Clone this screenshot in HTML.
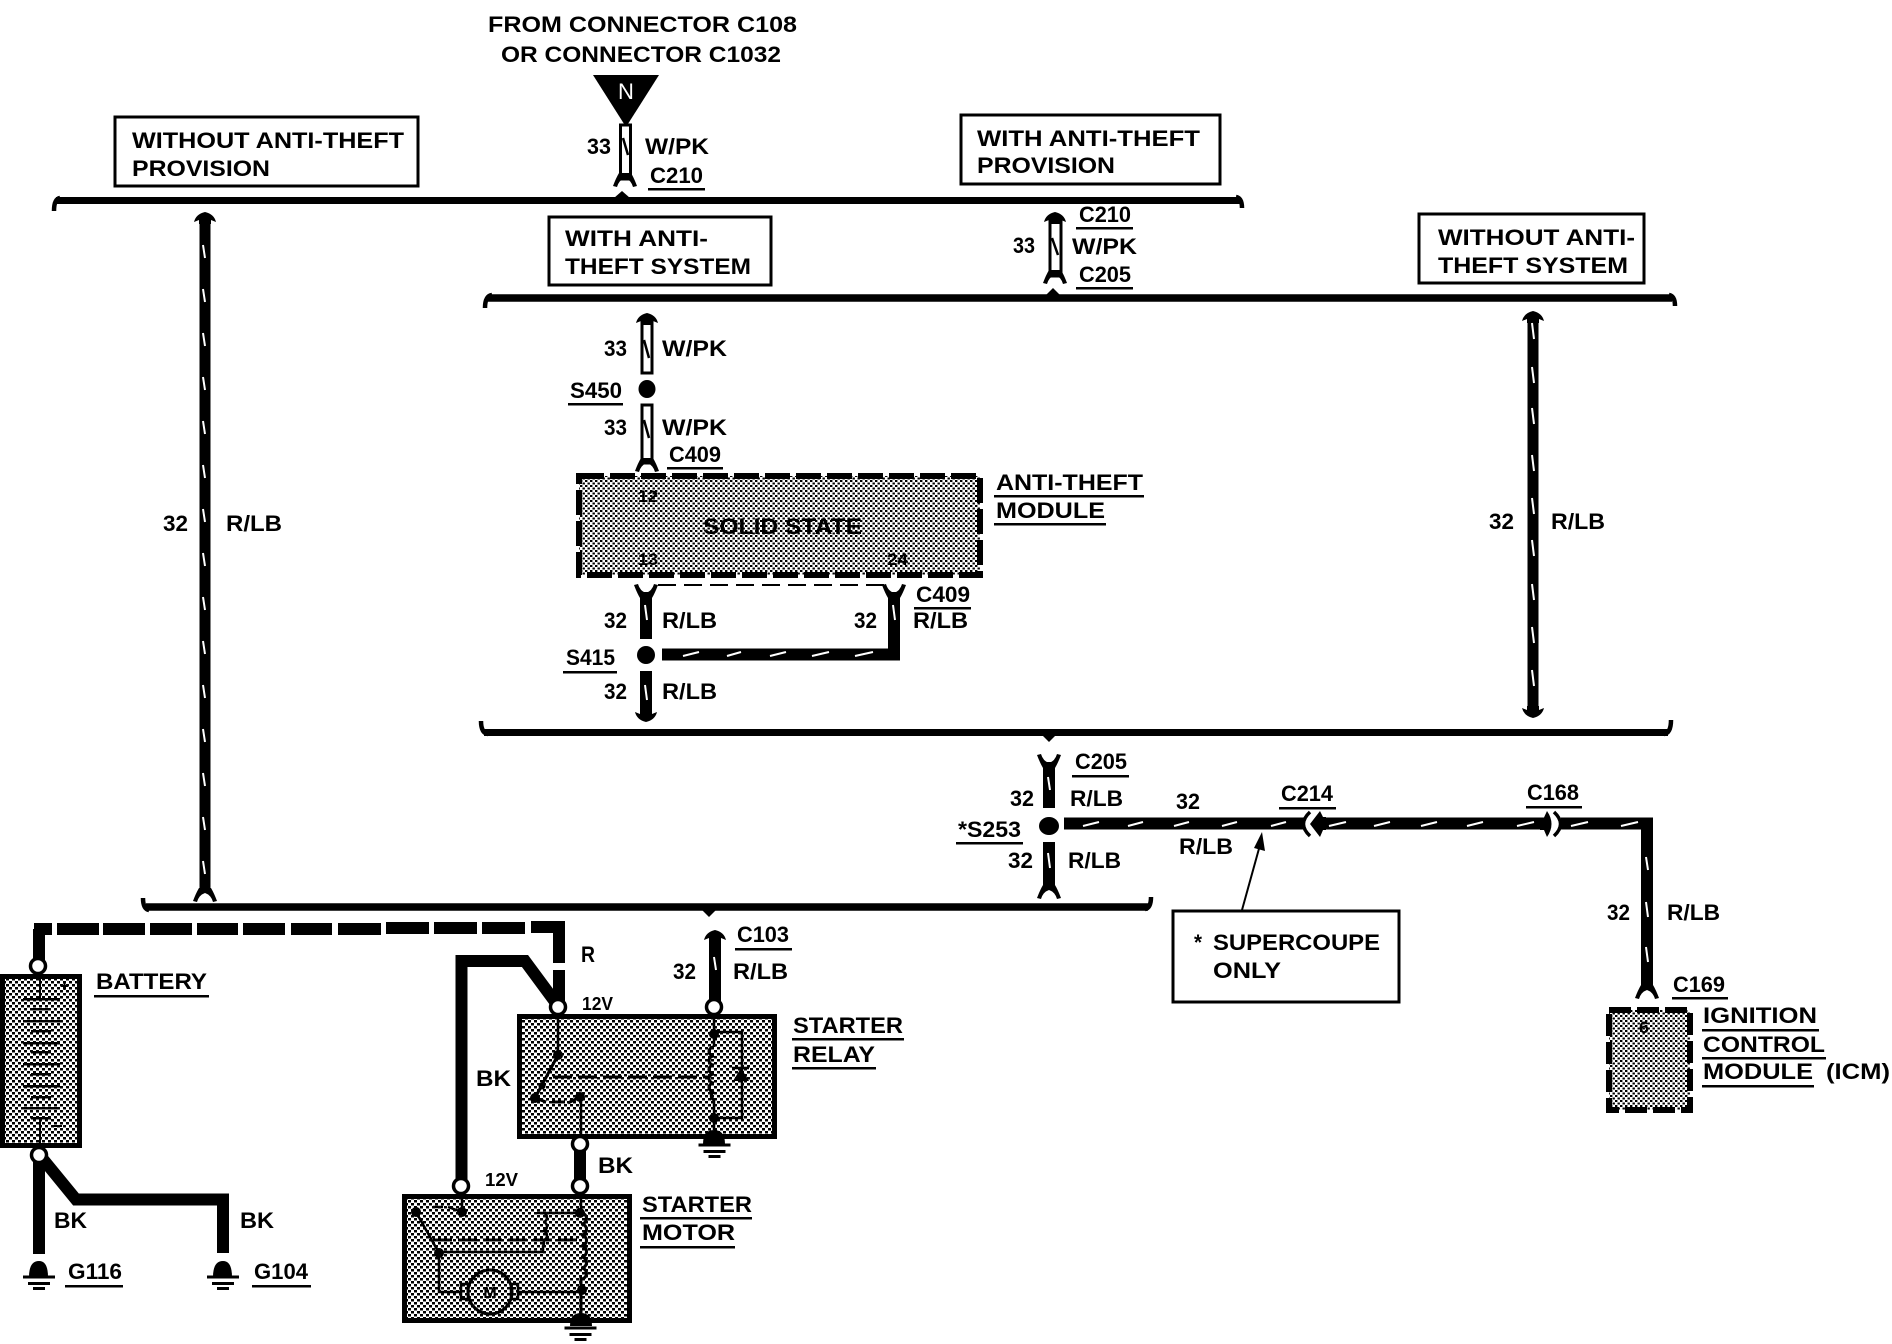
<!DOCTYPE html>
<html><head><meta charset="utf-8"><style>
html,body{margin:0;padding:0;background:#fff}
svg{display:block}
text{font-family:"Liberation Sans",sans-serif;font-weight:bold;fill:#000;font-size:22px}
.s{font-size:18px}
.n{font-size:17px}
.m{font-size:16px}
</style></head><body>
<svg width="1892" height="1344" viewBox="0 0 1892 1344" xmlns="http://www.w3.org/2000/svg">
<defs>
<pattern id="d" width="6" height="6" patternUnits="userSpaceOnUse"><rect width="6" height="6" fill="#fff"/><rect width="3" height="2.500"/><rect x="3" y="3" width="3" height="2.500"/></pattern>
<pattern id="f" width="5" height="5" patternUnits="userSpaceOnUse"><rect width="5" height="5" fill="#fff"/><rect width="2.400" height="2"/><rect x="2.500" y="2.500" width="2.400" height="2"/></pattern>
<path id="cap" d="M-11 10Q-9 2 0 0Q9 2 11 10L6 8L6 12L-6 12L-6 8Z"/>
<path id="fu" d="M-12 0L-8 -1Q-6 6 0 8Q6 6 8 -1L12 0Q9 8 6 13L-6 13Q-9 8 -12 0Z"/>
<path id="fd" d="M-12 0L-8 1Q-6 -6 0 -8Q6 -6 8 1L12 0Q9 -8 6 -13L-6 -13Q-9 -8 -12 0Z"/>
<path id="capd" d="M-11 -10Q-9 -2 0 0Q9 -2 11 -10L6 -8L6 -12L-6 -12L-6 -8Z"/>
<g id="gnd"><rect x="-16" y="-1.500" width="32" height="3"/><rect x="-11" y="5" width="22" height="3"/><rect x="-6" y="10" width="12" height="3"/></g>
</defs>

<!-- header -->
<text x="488" y="32" textLength="309" lengthAdjust="spacingAndGlyphs">FROM CONNECTOR C108</text>
<text x="501" y="62" textLength="280" lengthAdjust="spacingAndGlyphs">OR CONNECTOR C1032</text>
<path d="M593 75H659L626 127Z"/>
<text x="626" y="99" text-anchor="middle" style="fill:#fff;font-weight:normal">N</text>

<!-- note boxes -->
<g fill="#fff" stroke="#000" stroke-width="3">
<rect x="115" y="117" width="303" height="69"/>
<rect x="961" y="115" width="259" height="69"/>
<rect x="549" y="217" width="222" height="68"/>
<rect x="1419" y="214" width="225" height="69"/>
<rect x="1173" y="911" width="226" height="91"/>
</g>
<text x="132" y="148" textLength="272" lengthAdjust="spacingAndGlyphs">WITHOUT ANTI-THEFT</text>
<text x="132" y="176" textLength="138" lengthAdjust="spacingAndGlyphs">PROVISION</text>
<text x="977" y="146" textLength="223" lengthAdjust="spacingAndGlyphs">WITH ANTI-THEFT</text>
<text x="977" y="173" textLength="138" lengthAdjust="spacingAndGlyphs">PROVISION</text>
<text x="565" y="246" textLength="143" lengthAdjust="spacingAndGlyphs">WITH ANTI-</text>
<text x="565" y="274" textLength="186" lengthAdjust="spacingAndGlyphs">THEFT SYSTEM</text>
<text x="1438" y="245" textLength="197" lengthAdjust="spacingAndGlyphs">WITHOUT ANTI-</text>
<text x="1438" y="273" textLength="190" lengthAdjust="spacingAndGlyphs">THEFT SYSTEM</text>
<text x="1194" y="950" textLength="8" lengthAdjust="spacingAndGlyphs">*</text>
<text x="1213" y="950" textLength="167" lengthAdjust="spacingAndGlyphs">SUPERCOUPE</text>
<text x="1213" y="978" textLength="68" lengthAdjust="spacingAndGlyphs">ONLY</text>

<!-- braces -->
<g fill="none" stroke="#000">
<path stroke-width="7" d="M56 200.500H1240"/>
<path stroke-width="4.500" d="M54 211Q54 199 60 198"/>
<path stroke-width="4.500" d="M1242 208Q1242 198 1236 197"/>
<path stroke-width="7.500" d="M488 298H1672"/>
<path stroke-width="4.500" d="M485 308Q485 296 492 295"/>
<path stroke-width="4.500" d="M1675 306Q1675 296 1669 295"/>
<path stroke-width="7" d="M484 732.500H1668"/>
<path stroke-width="4.500" d="M481 721Q481 733 488 734"/>
<path stroke-width="4.500" d="M1671 720Q1671 733 1664 734"/>
<path stroke-width="7.500" d="M146 907H1148"/>
<path stroke-width="4.500" d="M143 898Q143 909 149 910"/>
<path stroke-width="4.500" d="M1151 897Q1151 908 1145 909"/>
</g>
<path d="M614 198L622 191L630 198Z"/><path d="M1046 295L1053 288L1060 295Z"/>
<path d="M1042 735L1049 742L1056 735Z"/><path d="M702 910L709 917L716 910Z"/>

<!-- thick solid wires -->
<g fill="none" stroke="#000" stroke-width="12">
<path stroke-width="11" d="M205 222V890"/>
<path stroke-width="11" d="M1533 320V710"/>
<path d="M646 592V639"/><path d="M646 671V712"/>
<path d="M662 654.500H894V592"/>
<path d="M1049 762V808"/><path d="M1049 842V888"/>
<path d="M1064 823.500H1305"/><path d="M1322 823.500H1545"/><path d="M1561 823.500H1647V990"/>
<path d="M39 1155V1254"/>
<path d="M42 1158L76 1199.500H223V1253"/>
<path d="M461.500 1186V961H525L556 1003"/>
<path d="M580 1144V1186"/>
<path d="M715 938V1007"/>
<path d="M559 970V1007"/>
<path d="M39 966V929"/>
</g>
<!-- dashed heavy R wire -->
<g>
<rect x="34" y="923" width="18" height="12"/><rect x="57" y="923" width="42" height="12"/><rect x="103" y="923" width="42" height="12"/><rect x="150" y="923" width="42" height="12"/><rect x="197" y="923" width="41" height="12"/><rect x="243" y="923" width="42" height="12"/><rect x="291" y="923" width="41" height="12"/><rect x="338" y="923" width="43" height="12"/><rect x="386" y="922" width="43" height="12"/><rect x="434" y="922" width="43" height="12"/><rect x="482" y="922" width="43" height="12"/><rect x="531" y="921" width="34" height="12"/><rect x="553" y="921" width="12" height="42"/>
</g>

<!-- double (W/PK) wires -->
<g fill="#fff" stroke="#000" stroke-width="3">
<rect x="620.500" y="125" width="10" height="54"/>
<rect x="1050" y="220" width="11" height="56"/>
<rect x="642" y="320" width="10" height="53"/>
<rect x="642" y="405" width="10" height="58"/>
</g>
<g fill="none" stroke="#000" stroke-width="2.500">
<path d="M623 138L628 155"/><path d="M1052 238L1058 255"/><path d="M644 340L649 358"/><path d="M644 420L649 438"/>
</g>

<!-- connector ends -->
<use href="#cap" x="205" y="212"/>
<use href="#fd" x="205" y="901"/>
<use href="#fd" x="625" y="186"/>
<use href="#cap" x="1055" y="212"/>
<use href="#fd" x="1055" y="283"/>
<use href="#cap" x="647" y="313"/>
<use href="#fd" x="647" y="471"/>
<use href="#fu" x="646" y="585"/>
<use href="#fu" x="894" y="585"/>
<use href="#capd" x="646" y="722"/>
<use href="#cap" x="1533" y="311"/>
<use href="#capd" x="1533" y="718"/>
<use href="#fu" x="1049" y="755"/>
<use href="#fd" x="1049" y="898"/>
<use href="#cap" x="715" y="930"/>
<use href="#fd" x="1647" y="998"/>

<!-- white slashes -->
<path fill="none" stroke="#fff" stroke-width="2" d="M203 245l2 13M203 289l2 13M203 333l2 13M203 377l2 13M203 421l2 13M203 465l2 13M203 509l2 13M203 553l2 13M203 597l2 13M203 641l2 13M203 685l2 13M203 729l2 13M203 773l2 13M203 817l2 13M203 861l2 13
M1532 323l2 16M1532 367l2 16M1532 408l2 16M1532 455l2 16M1532 498l2 16M1532 540l2 16M1532 584l2 16M1532 627l2 16M1532 670l2 16
M645 605l2 15M645 685l2 15M893 605l2 15M714 957l2 13M1048 777l2 13M1048 853l2 15
M1646 857l2 13M1646 902l2 15M1646 947l2 15
M683 656l16 -4M727 656l14 -4M770 656l16 -4M812 656l17 -4M855 656l18 -4
M1083 826l16 -4M1128 826l15 -4M1174 826l15 -4M1222 826l15 -4M1271 826l15 -4M1329 826l17 -4M1374 826l16 -4M1421 826l16 -4M1467 826l16 -4M1517 826l17 -4M1571 826l17 -4M1621 826l17 -4"/>

<!-- dotted line between C409 forks -->
<path fill="none" stroke="#000" stroke-width="2" stroke-dasharray="18 8" d="M658 585H884"/>

<!-- splices -->
<ellipse cx="647" cy="389" rx="8.500" ry="9"/>
<ellipse cx="646" cy="655" rx="9" ry="9"/>
<ellipse cx="1049" cy="826" rx="10" ry="9"/>

<!-- C214 / C168 connectors -->
<path fill="none" stroke="#000" stroke-width="3.500" d="M1310 812Q1297 824 1310 836"/>
<path d="M1320 811L1310 824L1320 837L1323 830H1326V817H1323Z"/>
<path d="M1540 817.500H1544L1547 811Q1556 824 1547 837L1544 830H1540Z"/>
<path fill="none" stroke="#000" stroke-width="3.500" d="M1554 812Q1567 824 1554 836"/>

<!-- arrow to S253 note -->
<path fill="none" stroke="#000" stroke-width="2" d="M1242 910L1260 845"/>
<path d="M1262 832L1265 851L1254 848Z"/>

<!-- anti-theft module -->
<rect x="579" y="476" width="401" height="99" fill="url(#f)" stroke="#000" stroke-width="6" stroke-dasharray="25 6"/>
<!-- ICM -->
<rect x="1609" y="1010" width="81" height="100" fill="url(#f)" stroke="#000" stroke-width="6" stroke-dasharray="22 6"/>
<!-- battery / relay / motor -->
<rect x="2.500" y="976.500" width="77" height="169" fill="url(#d)" stroke="#000" stroke-width="5"/>
<rect x="519.500" y="1016.500" width="255" height="120" fill="url(#d)" stroke="#000" stroke-width="5"/>
<rect x="404.500" y="1196.500" width="225" height="124" fill="url(#d)" stroke="#000" stroke-width="5"/>

<!-- battery internals -->
<g fill="#000">
<rect x="39" y="974" width="2" height="25"/>
<rect x="23" y="998" width="37" height="2.500"/><rect x="31" y="1008" width="20" height="2.500"/>
<rect x="23" y="1020" width="37" height="2.500"/><rect x="31" y="1030" width="20" height="2.500"/>
<rect x="23" y="1042" width="37" height="2.500"/><rect x="31" y="1051" width="20" height="2.500"/>
<rect x="23" y="1063" width="37" height="2.500"/><rect x="31" y="1073" width="20" height="2.500"/>
<rect x="23" y="1085" width="37" height="2.500"/><rect x="31" y="1096" width="20" height="2.500"/>
<rect x="23" y="1107" width="37" height="2.500"/><rect x="31" y="1117" width="20" height="2.500"/>
<rect x="39" y="1118" width="2" height="30"/>
<rect x="61" y="985" width="7" height="2"/><rect x="63.500" y="982" width="2" height="8"/>
<rect x="54" y="1125" width="8" height="2"/>
</g>

<!-- relay internals -->
<g fill="none" stroke="#000" stroke-width="2.500">
<path d="M558 1015V1055"/>
<path stroke-width="3" d="M558 1055L535 1098"/>
<path stroke-width="3" d="M535 1098L546 1102M552 1102H565M568 1103L580 1097"/>
<path d="M581 1098V1144"/>
<path stroke-width="3" stroke-dasharray="19 6" d="M553 1077H708"/>
<path d="M714 1015V1047M714 1100V1130"/>
<path stroke-width="3" d="M714 1047a5 4.500 0 0 0 0 9a5 4.500 0 0 0 0 9a5 4.500 0 0 0 0 9a5 4.500 0 0 0 0 9a5 4.500 0 0 0 0 9a5 4.500 0 0 0 0 8"/>
<path d="M714 1032H742V1118H714"/>
<path d="M732 1068H749"/>
</g>
<path d="M733 1081H749L741 1068Z"/>
<circle cx="558" cy="1055" r="5"/><circle cx="542" cy="1086" r="3.500"/><circle cx="535" cy="1098" r="5"/><circle cx="580" cy="1097" r="5"/>
<circle cx="714" cy="1034" r="5"/><circle cx="714" cy="1118" r="5"/>
<path d="M703 1144Q703 1130 714 1130Q725 1130 725 1144Z"/>
<use href="#gnd" x="714.500" y="1145"/>

<!-- motor internals -->
<g fill="none" stroke="#000" stroke-width="2.500">
<path d="M462 1194V1212"/>
<path d="M416 1212L439 1253V1292H461"/>
<path d="M433 1207H443M448 1207L462 1212"/>
<path stroke-width="3" stroke-dasharray="19 6" d="M433 1240H583"/>
<path d="M439 1252H543M537 1213H580"/>
<path d="M543 1213a4 4.500 0 0 1 0 9a4 4.500 0 0 1 0 9a4 4.500 0 0 1 0 9a4 4.500 0 0 1 0 6V1252"/>
<path d="M581 1194V1213"/>
<path stroke-width="3" d="M581 1213a5 5 0 0 1 0 11a5 5 0 0 1 0 11a5 5 0 0 1 0 11a5 5 0 0 1 0 11a5 5 0 0 1 0 11a5 5 0 0 1 0 11V1318"/>
<path d="M517 1292H582"/>
<circle cx="490" cy="1292" r="22" stroke-width="3"/>
<rect x="461" y="1284" width="7" height="15"/><rect x="511" y="1284" width="7" height="15"/>
</g>
<circle cx="462" cy="1212" r="5"/><circle cx="416" cy="1212" r="5"/><circle cx="439" cy="1253" r="5"/><circle cx="580" cy="1213" r="5"/><circle cx="582" cy="1290" r="5"/>
<path d="M570 1326Q570 1313 581 1313Q592 1313 592 1326Z"/>
<use href="#gnd" x="580.500" y="1328"/>

<!-- open terminals -->
<g fill="#fff" stroke="#000" stroke-width="3.500">
<circle cx="38" cy="966" r="7.500"/><circle cx="39" cy="1155" r="7.500"/>
<circle cx="558" cy="1007" r="7.500"/><circle cx="714" cy="1007" r="7.500"/>
<circle cx="580" cy="1144" r="7.500"/><circle cx="461" cy="1186" r="7.500"/><circle cx="580" cy="1186" r="7.500"/>
</g>

<!-- grounds G116 / G104 -->
<path d="M29 1277Q29 1261 39 1261Q48 1261 48 1277Z"/><use href="#gnd" x="39" y="1277"/>
<path d="M213 1277Q213 1261 223 1261Q232 1261 232 1277Z"/><use href="#gnd" x="223" y="1277"/>

<!-- underlines -->
<g fill="#000">
<rect x="648" y="188" width="57" height="2.500"/>
<rect x="1076" y="227" width="57" height="2.500"/>
<rect x="1076" y="287" width="57" height="2.500"/>
<rect x="568" y="403" width="55" height="2.500"/>
<rect x="667" y="467" width="56" height="2.500"/>
<rect x="914" y="607" width="57" height="2.500"/>
<rect x="563" y="671" width="54" height="2.500"/>
<rect x="994" y="495" width="150" height="2.500"/>
<rect x="994" y="523" width="112" height="2.500"/>
<rect x="1072" y="775" width="57" height="2.500"/>
<rect x="956" y="842" width="67" height="2.500"/>
<rect x="1279" y="807" width="57" height="2.500"/>
<rect x="1526" y="806" width="56" height="2.500"/>
<rect x="1672" y="997" width="56" height="2.500"/>
<rect x="1702" y="1029" width="117" height="2.500"/>
<rect x="1702" y="1057" width="124" height="2.500"/>
<rect x="1702" y="1085" width="112" height="2.500"/>
<rect x="94" y="995" width="115" height="2.500"/>
<rect x="65" y="1285" width="58" height="2.500"/>
<rect x="252" y="1285" width="59" height="2.500"/>
<rect x="735" y="948" width="57" height="2.500"/>
<rect x="792" y="1038" width="112" height="2.500"/>
<rect x="792" y="1067" width="84" height="2.500"/>
<rect x="640" y="1217" width="112" height="2.500"/>
<rect x="640" y="1246" width="95" height="2.500"/>
</g>

<!-- wire labels -->
<text x="587" y="154" textLength="24" lengthAdjust="spacingAndGlyphs">33</text>
<text x="645" y="154" textLength="64" lengthAdjust="spacingAndGlyphs">W/PK</text>
<text x="650" y="183" textLength="53" lengthAdjust="spacingAndGlyphs">C210</text>
<text x="1079" y="222" textLength="52" lengthAdjust="spacingAndGlyphs">C210</text>
<text x="1013" y="253" textLength="22" lengthAdjust="spacingAndGlyphs">33</text>
<text x="1072" y="254" textLength="65" lengthAdjust="spacingAndGlyphs">W/PK</text>
<text x="1079" y="282" textLength="52" lengthAdjust="spacingAndGlyphs">C205</text>
<text x="604" y="356" textLength="23" lengthAdjust="spacingAndGlyphs">33</text>
<text x="662" y="356" textLength="65" lengthAdjust="spacingAndGlyphs">W/PK</text>
<text x="570" y="398" textLength="52" lengthAdjust="spacingAndGlyphs">S450</text>
<text x="604" y="435" textLength="23" lengthAdjust="spacingAndGlyphs">33</text>
<text x="662" y="435" textLength="65" lengthAdjust="spacingAndGlyphs">W/PK</text>
<text x="669" y="462" textLength="52" lengthAdjust="spacingAndGlyphs">C409</text>
<text x="996" y="490" textLength="147" lengthAdjust="spacingAndGlyphs">ANTI-THEFT</text>
<text x="996" y="518" textLength="109" lengthAdjust="spacingAndGlyphs">MODULE</text>
<text x="703" y="534" textLength="159" lengthAdjust="spacingAndGlyphs">SOLID STATE</text>
<text class="n" x="638" y="502" textLength="20" lengthAdjust="spacingAndGlyphs">12</text>
<text class="n" x="638" y="565" textLength="20" lengthAdjust="spacingAndGlyphs">13</text>
<text class="n" x="887" y="565" textLength="21" lengthAdjust="spacingAndGlyphs">24</text>
<text x="916" y="602" textLength="54" lengthAdjust="spacingAndGlyphs">C409</text>
<text x="604" y="628" textLength="23" lengthAdjust="spacingAndGlyphs">32</text>
<text x="662" y="628" textLength="55" lengthAdjust="spacingAndGlyphs">R/LB</text>
<text x="854" y="628" textLength="23" lengthAdjust="spacingAndGlyphs">32</text>
<text x="913" y="628" textLength="55" lengthAdjust="spacingAndGlyphs">R/LB</text>
<text x="566" y="665" textLength="49" lengthAdjust="spacingAndGlyphs">S415</text>
<text x="604" y="699" textLength="23" lengthAdjust="spacingAndGlyphs">32</text>
<text x="662" y="699" textLength="55" lengthAdjust="spacingAndGlyphs">R/LB</text>
<text x="163" y="531" textLength="25" lengthAdjust="spacingAndGlyphs">32</text>
<text x="226" y="531" textLength="56" lengthAdjust="spacingAndGlyphs">R/LB</text>
<text x="1489" y="529" textLength="25" lengthAdjust="spacingAndGlyphs">32</text>
<text x="1551" y="529" textLength="54" lengthAdjust="spacingAndGlyphs">R/LB</text>
<text x="1075" y="769" textLength="52" lengthAdjust="spacingAndGlyphs">C205</text>
<text x="1010" y="806" textLength="24" lengthAdjust="spacingAndGlyphs">32</text>
<text x="1070" y="806" textLength="53" lengthAdjust="spacingAndGlyphs">R/LB</text>
<text x="958" y="837" textLength="63" lengthAdjust="spacingAndGlyphs">*S253</text>
<text x="1008" y="868" textLength="25" lengthAdjust="spacingAndGlyphs">32</text>
<text x="1068" y="868" textLength="53" lengthAdjust="spacingAndGlyphs">R/LB</text>
<text x="1176" y="809" textLength="24" lengthAdjust="spacingAndGlyphs">32</text>
<text x="1179" y="854" textLength="54" lengthAdjust="spacingAndGlyphs">R/LB</text>
<text x="1281" y="801" textLength="52" lengthAdjust="spacingAndGlyphs">C214</text>
<text x="1527" y="800" textLength="52" lengthAdjust="spacingAndGlyphs">C168</text>
<text x="1607" y="920" textLength="23" lengthAdjust="spacingAndGlyphs">32</text>
<text x="1667" y="920" textLength="53" lengthAdjust="spacingAndGlyphs">R/LB</text>
<text x="1673" y="992" textLength="52" lengthAdjust="spacingAndGlyphs">C169</text>
<text class="n" x="1639" y="1033" textLength="10" lengthAdjust="spacingAndGlyphs">6</text>
<text x="1703" y="1023" textLength="114" lengthAdjust="spacingAndGlyphs">IGNITION</text>
<text x="1703" y="1052" textLength="122" lengthAdjust="spacingAndGlyphs">CONTROL</text>
<text x="1703" y="1079" textLength="110" lengthAdjust="spacingAndGlyphs">MODULE</text>
<text x="1826" y="1079" textLength="64" lengthAdjust="spacingAndGlyphs">(ICM)</text>
<text x="96" y="989" textLength="111" lengthAdjust="spacingAndGlyphs">BATTERY</text>
<text x="54" y="1228" textLength="33" lengthAdjust="spacingAndGlyphs">BK</text>
<text x="240" y="1228" textLength="34" lengthAdjust="spacingAndGlyphs">BK</text>
<text x="68" y="1279" textLength="54" lengthAdjust="spacingAndGlyphs">G116</text>
<text x="254" y="1279" textLength="54" lengthAdjust="spacingAndGlyphs">G104</text>
<text x="581" y="962" textLength="14" lengthAdjust="spacingAndGlyphs">R</text>
<text class="s" x="582" y="1010" textLength="31" lengthAdjust="spacingAndGlyphs">12V</text>
<text x="737" y="942" textLength="52" lengthAdjust="spacingAndGlyphs">C103</text>
<text x="673" y="979" textLength="23" lengthAdjust="spacingAndGlyphs">32</text>
<text x="733" y="979" textLength="55" lengthAdjust="spacingAndGlyphs">R/LB</text>
<text x="793" y="1033" textLength="110" lengthAdjust="spacingAndGlyphs">STARTER</text>
<text x="793" y="1062" textLength="82" lengthAdjust="spacingAndGlyphs">RELAY</text>
<text x="476" y="1086" textLength="35" lengthAdjust="spacingAndGlyphs">BK</text>
<text x="598" y="1173" textLength="35" lengthAdjust="spacingAndGlyphs">BK</text>
<text class="s" x="485" y="1186" textLength="33" lengthAdjust="spacingAndGlyphs">12V</text>
<text x="642" y="1212" textLength="110" lengthAdjust="spacingAndGlyphs">STARTER</text>
<text x="642" y="1240" textLength="93" lengthAdjust="spacingAndGlyphs">MOTOR</text>
<text class="m" x="490" y="1298" text-anchor="middle">M</text>
</svg>
</body></html>
